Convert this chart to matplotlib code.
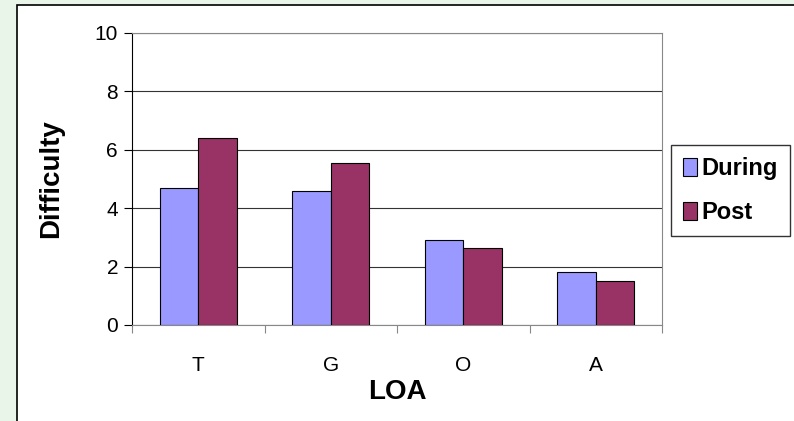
import matplotlib.pyplot as plt
import numpy as np
from matplotlib.patches import Rectangle

plt.rcParams['font.family'] = ['Liberation Sans', 'DejaVu Sans']

categories = ['T', 'G', 'O', 'A']
during = [4.7, 4.6, 2.9, 1.8]
post = [6.4, 5.55, 2.65, 1.5]

fig = plt.figure(figsize=(7.94, 4.21), dpi=100, facecolor='#e9f5e9')
# white chart area with black border, behind the axes
fig.patches.append(Rectangle((17 / 794, -0.1), 1.0, 1 - 5 / 421 + 0.1,
                             transform=fig.transFigure, facecolor='white',
                             edgecolor='black', linewidth=1.2, zorder=-10))

ax = fig.add_axes([132 / 794, 1 - 325 / 421, 530 / 794, 292 / 421])
ax.set_facecolor('none')
x = np.arange(len(categories))
w = 0.29
ax.bar(x - w / 2, during, w, color='#9999ff', edgecolor='black', linewidth=0.8,
       label='During', zorder=3)
ax.bar(x + w / 2, post, w, color='#993366', edgecolor='black', linewidth=0.8,
       label='Post', zorder=3)

ax.set_xlim(-0.5, 3.5)
ax.set_ylim(0, 10)
ax.set_yticks(range(0, 11, 2))
ax.yaxis.grid(True, color='#333333', linewidth=0.8, zorder=0)
ax.set_xticks(np.arange(-0.5, 4, 1))
ax.set_xticklabels([])
ax.set_xticks(x, minor=True)
ax.set_xticklabels(categories, minor=True, fontsize=15)
ax.tick_params(axis='x', which='minor', length=0, pad=22)
ax.tick_params(axis='x', which='major', direction='out', length=6, color='#888888')
ax.tick_params(axis='y', direction='out', length=6, labelsize=15, pad=4)
ax.spines['top'].set_color('#888888')
ax.spines['right'].set_color('#888888')
ax.spines['bottom'].set_color('#888888')
ax.spines['left'].set_color('black')

ax.set_xlabel('LOA', fontsize=20, fontweight='bold', labelpad=3)
ax.set_ylabel('Difficulty', fontsize=20, fontweight='bold', labelpad=22)

leg = ax.legend(loc='upper left', bbox_to_anchor=(671 / 794, 1 - 145 / 421),
                bbox_transform=fig.transFigure, frameon=True, fancybox=False,
                prop={'weight': 'bold', 'size': 17}, handlelength=0.6,
                handleheight=0.8, handletextpad=0.2, borderpad=0.5,
                labelspacing=0.9, borderaxespad=0)
leg.get_frame().set_edgecolor('black')
leg.get_frame().set_linewidth(1.0)

fig.savefig('out.png', dpi=100, facecolor=fig.get_facecolor())
